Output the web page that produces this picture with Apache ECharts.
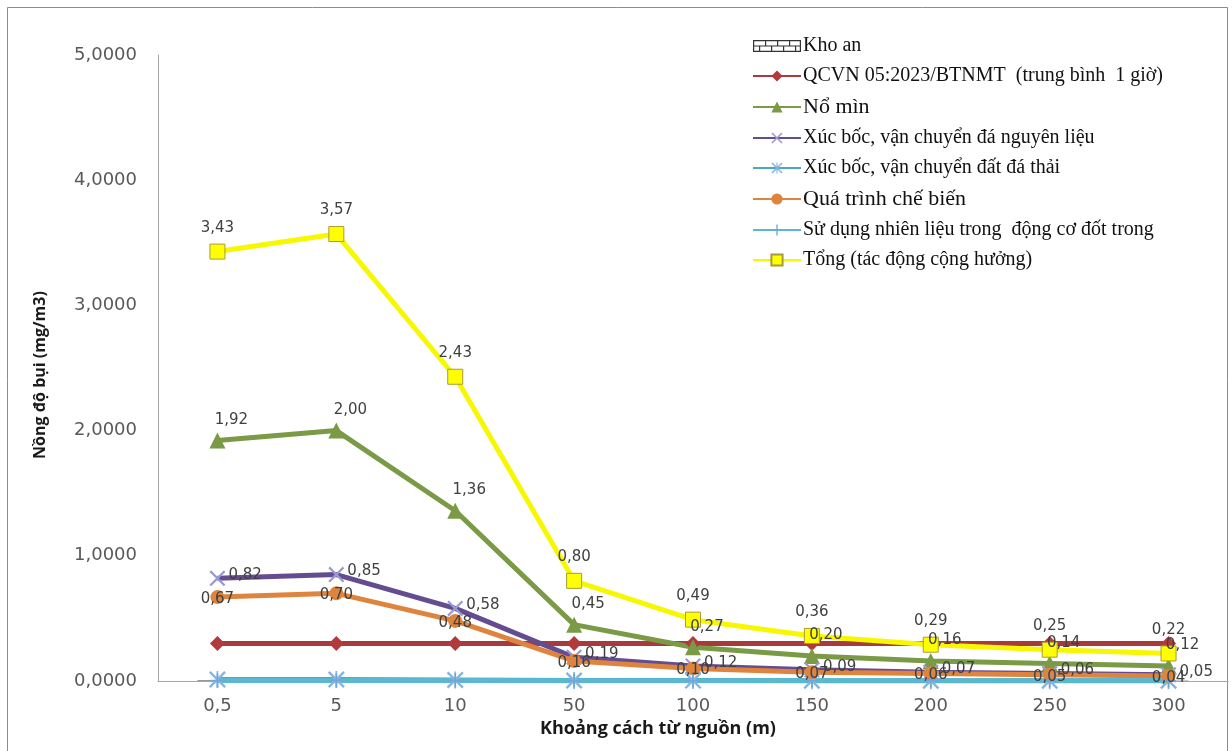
<!DOCTYPE html>
<html>
<head>
<meta charset="utf-8">
<script src="https://cdn.jsdelivr.net/npm/echarts@6/dist/echarts.min.js"></script>
<style>
html,body{margin:0;padding:0;background:#fff;}
#chart{width:1232px;height:751px;}
</style>
</head>
<body>
<div id="chart"></div>
<script>
// ---- data ----
const categories = ['0,5', '5', '10', '50', '100', '150', '200', '250', '300'];
const yTicks = [0, 1, 2, 3, 4, 5];
const seriesNames = [
  'Kho an',
  'QCVN 05:2023/BTNMT  (trung bình  1 giờ)',
  'Nổ mìn',
  'Xúc bốc, vận chuyển đá nguyên liệu',
  'Xúc bốc, vận chuyển đất đá thải',
  'Quá trình chế biến',
  'Sử dụng nhiên liệu trong  động cơ đốt trong',
  'Tổng (tác động cộng hưởng)'
];
const khoan      = [0.004, 0.004, 0.003, 0.002, 0.001, 0.001, 0.001, 0.001, 0.001];
const qcvn       = [0.30, 0.30, 0.30, 0.30, 0.30, 0.30, 0.30, 0.30, 0.30];
const noMin      = [1.92, 2.00, 1.36, 0.45, 0.27, 0.20, 0.16, 0.14, 0.12];
const xucBocDa   = [0.82, 0.85, 0.58, 0.19, 0.12, 0.09, 0.07, 0.06, 0.05];
const xucBocDat  = [0.012, 0.012, 0.008, 0.004, 0.003, 0.002, 0.002, 0.002, 0.002];
const cheBien    = [0.67, 0.70, 0.48, 0.16, 0.10, 0.07, 0.06, 0.05, 0.04];
const nhienLieu  = [0.004, 0.004, 0.003, 0.002, 0.002, 0.001, 0.001, 0.001, 0.001];
const tong       = [3.43, 3.57, 2.43, 0.80, 0.49, 0.36, 0.29, 0.25, 0.22];

// ---- helpers ----
const fmt2 = p => p.value.toFixed(2).replace('.', ',');
const labelFont = {fontFamily: 'DejaVu Sans', fontSize: 15, color: '#404040'};
const xPath = 'path://M0,1 L1,0 L5,4 L9,0 L10,1 L6,5 L10,9 L9,10 L5,6 L1,10 L0,9 L4,5 Z';
const starPath = 'path://M0,1 L1,0 L10,9 L9,10 Z M9,0 L10,1 L1,10 L0,9 Z M4.5,0 L5.5,0 L5.5,10 L4.5,10 Z';
const plusPath = 'path://M4.4,0 H5.6 V10 H4.4 Z M0,4.4 H10 V5.6 H0 Z';
const brickPath = 'path://M0,0H40V10H0Z M1,1V9H39V1Z M1,4.5H39V5.5H1Z M10,1H11V4.5H10Z M20,1H21V4.5H20Z M30,1H31V4.5H30Z M5,5.5H6V9H5Z M15,5.5H16V9H15Z M25,5.5H26V9H25Z M35,5.5H36V9H35Z';

function lineSeries(name, data, color, symbol, size, symbolColor, extra) {
  return Object.assign({
    name: name,
    type: 'line',
    data: data,
    symbol: symbol,
    symbolSize: size,
    showAllSymbol: true,
    lineStyle: {color: color, width: 5},
    itemStyle: {color: symbolColor || color},
    label: {show: false},
    emphasis: {disabled: true}
  }, extra || {});
}

const chart = echarts.init(document.getElementById('chart'), null, {renderer: 'canvas'});
const option = {
  backgroundColor: '#ffffff',
  animation: false,
  grid: {left: 158, right: 4, top: 55, bottom: 70, containLabel: false},
  graphic: [{
    type: 'rect', silent: true, z: -10,
    shape: {x: 7.5, y: 7.5, width: 1220, height: 780},
    style: {fill: 'none', stroke: '#8c8c8c', lineWidth: 1}
  }],
  legend: {
    orient: 'vertical',
    left: 747,
    top: 31,
    itemWidth: 48,
    itemHeight: 14,
    itemGap: 10,
    selectedMode: false,
    data: seriesNames.map((n, i) => i === 0 ? {name: n, icon: brickPath} : {name: n}),
    formatter: n => (n === 'Nổ mìn' || n === 'Quá trình chế biến') ? '{b|' + n + '}' : '{a|' + n + '}',
    textStyle: {
      padding: [0, 0, 0, -3],
      rich: {
        a: {fontFamily: 'Liberation Serif', fontSize: 20, color: '#111', lineHeight: 20},
        b: {fontFamily: 'Liberation Serif', fontSize: 22, color: '#111', lineHeight: 20}
      }
    }
  },
  xAxis: {
    type: 'category',
    data: categories,
    boundaryGap: true,
    axisLine: {lineStyle: {color: '#a6a6a6', width: 1}},
    axisTick: {show: false},
    axisLabel: {margin: 16, fontFamily: 'DejaVu Sans', fontSize: 18, color: '#595959'},
    name: 'Khoảng cách từ nguồn (m)',
    nameLocation: 'middle',
    nameGap: 35,
    nameTextStyle: {fontFamily: 'Open Sans', fontWeight: 'bold', fontSize: 18, color: '#1a1a1a', padding: [0, 70, 0, 0]}
  },
  yAxis: {
    type: 'value',
    min: yTicks[0],
    max: yTicks[yTicks.length - 1],
    interval: 1,
    splitLine: {show: false},
    axisLine: {show: true, lineStyle: {color: '#a6a6a6', width: 1}},
    axisTick: {show: false},
    axisLabel: {margin: 21, fontFamily: 'DejaVu Sans', fontSize: 18, color: '#595959',
      formatter: v => v.toFixed(4).replace('.', ',')},
    name: 'Nồng độ bụi (mg/m3)',
    nameLocation: 'middle',
    nameGap: 110,
    nameTextStyle: {fontFamily: 'Open Sans', fontWeight: 'bold', fontSize: 16, color: '#1a1a1a', padding: [0, 0, 0, -14]}
  },
  series: [
    {
      name: seriesNames[0], type: 'bar', data: khoan, barWidth: 40,
      itemStyle: {color: '#333333'}, emphasis: {disabled: true}
    },
    lineSeries(seriesNames[1], qcvn, '#a83a3c', 'diamond', 15, '#b03a3c'),
    lineSeries(seriesNames[2], noMin, '#7a9a45', 'triangle', 16, '#7a9a45', {
      label: Object.assign({show: true, position: 'top', offset: [14, 0], formatter: fmt2}, labelFont)
    }),
    lineSeries(seriesNames[3], xucBocDa, '#644c91', xPath, 16, '#9a9ad2', {
      label: Object.assign({show: true, position: 'right', offset: [-2, -3], formatter: fmt2}, labelFont)
    }),
    lineSeries(seriesNames[4], xucBocDat, '#4aa9bf', starPath, 17, '#86b6e0'),
    lineSeries(seriesNames[5], cheBien, '#de843e', 'circle', 14, '#de843e', {
      label: Object.assign({show: true, position: 'inside', offset: [0, 2], formatter: fmt2}, labelFont)
    }),
    lineSeries(seriesNames[6], nhienLieu, '#5ab8cf', plusPath, 14, '#6fa8d6'),
    lineSeries(seriesNames[7], tong, '#f7f700', 'rect', 15, '#ffff00', {
      itemStyle: {color: '#ffff00', borderColor: '#a89b3a', borderWidth: 1},
      label: Object.assign({show: true, position: 'top', distance: 8, formatter: fmt2}, labelFont)
    })
  ]
};
chart.setOption(option);
</script>
</body>
</html>
